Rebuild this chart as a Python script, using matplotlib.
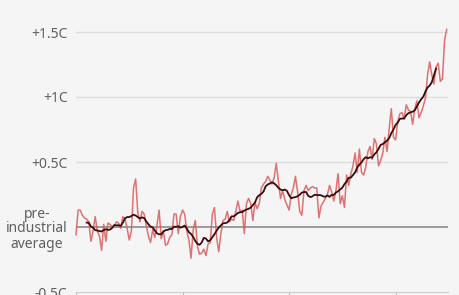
import matplotlib
matplotlib.use("Agg")
import matplotlib.pyplot as plt
import numpy as np
import pandas as pd

plt.rcParams['font.family'] = ['Noto Sans', 'DejaVu Sans']

# annual global temperature vs pre-industrial (1850-1900) average, C
years = list(range(1850, 2025))
anomaly = [
    -0.06, 0.13, 0.13, 0.09, 0.07, 0.06, 0.04, -0.11, -0.03, 0.08,   # 1850s
    -0.03, -0.07, -0.18, 0.02, -0.11, 0.03, 0.02, 0.00, 0.01, 0.04,  # 1860s
    0.03, -0.01, 0.08, 0.06, -0.01, -0.10, -0.03, 0.30, 0.37, 0.11,  # 1870s
    0.04, 0.12, 0.10, 0.01, -0.07, -0.12, -0.02, -0.08, 0.01, 0.13,  # 1880s
    -0.09, -0.03, -0.14, -0.13, -0.08, -0.06, 0.10, 0.10, -0.05, 0.08,  # 1890s
    0.13, 0.10, -0.03, -0.10, -0.24, -0.02, 0.05, -0.15, -0.21, -0.20,  # 1900s
    -0.17, -0.22, -0.13, -0.12, 0.10, 0.15, -0.08, -0.19, -0.05, 0.05,  # 1910s
    0.06, 0.12, 0.04, 0.06, 0.05, 0.12, 0.20, 0.12, 0.13, -0.05,  # 1920s
    0.18, 0.22, 0.18, 0.05, 0.19, 0.14, 0.18, 0.30, 0.33, 0.35,  # 1930s
    0.39, 0.36, 0.33, 0.38, 0.49, 0.35, 0.22, 0.28, 0.21, 0.17,  # 1940s
    0.13, 0.25, 0.30, 0.39, 0.27, 0.12, 0.09, 0.28, 0.32, 0.28,  # 1950s
    0.30, 0.31, 0.30, 0.30, 0.07, 0.16, 0.19, 0.22, 0.25, 0.32,  # 1960s
    0.27, 0.20, 0.28, 0.41, 0.18, 0.24, 0.15, 0.40, 0.32, 0.41,  # 1970s
    0.47, 0.57, 0.42, 0.60, 0.42, 0.40, 0.46, 0.58, 0.62, 0.52,  # 1980s
    0.68, 0.64, 0.47, 0.51, 0.57, 0.69, 0.58, 0.76, 0.91, 0.69,  # 1990s
    0.67, 0.81, 0.87, 0.88, 0.83, 0.94, 0.90, 0.89, 0.79, 0.91,  # 2000s
    0.97, 0.84, 0.88, 0.93, 0.99, 1.17, 1.27, 1.17, 1.10, 1.23,  # 2010s
    1.26, 1.12, 1.14, 1.44, 1.52,  # 2020s
]

ytick_vals = [-0.5, 0, 0.5, 1, 1.5]
ytick_labels = ['-0.5C', 'pre-\nindustrial\naverage', '+0.5C', '+1C', '+1.5C']
xtick_vals = [1850, 1900, 1950, 2000]

bg = '#f5f5f5'
series = pd.Series(anomaly, index=years)
smooth = series.rolling(11, center=True).mean()

fig = plt.figure(figsize=(4.6, 2.95), dpi=100, facecolor=bg)
ax = fig.add_axes([76 / 460, 3 / 295, 372 / 460, 2.1 * 130 / 295])
ax.set_facecolor(bg)

ax.set_xlim(1850, 2024.6)
ax.set_ylim(-0.5, 1.6)

for v in ytick_vals[2:]:
    ax.axhline(v, color='#dddddd', lw=1, zorder=1)
ax.axhline(0, color='#8c8c8c', lw=1.2, zorder=2)

ax.plot(series.index, series.values, color='#dc5a5a', lw=1.1, alpha=0.85,
        zorder=3, clip_on=False)
ax.plot(smooth.index, smooth.values, color='#3a0b0b', lw=1.3, zorder=4)

for s in ['top', 'right', 'left']:
    ax.spines[s].set_visible(False)
ax.spines['bottom'].set_color('#cccccc')

ax.set_yticks(ytick_vals)
ax.set_yticklabels(ytick_labels)
ax.tick_params(axis='y', length=0, pad=6, labelsize=10, labelcolor='#606060')
for lab in ax.get_yticklabels():
    lab.set_multialignment('center')
    lab.set_linespacing(1.0)

ax.set_xticks(xtick_vals)
ax.tick_params(axis='x', length=6, color='#bbbbbb', labelbottom=False)

fig.savefig('out.png', dpi=100, facecolor=bg)
